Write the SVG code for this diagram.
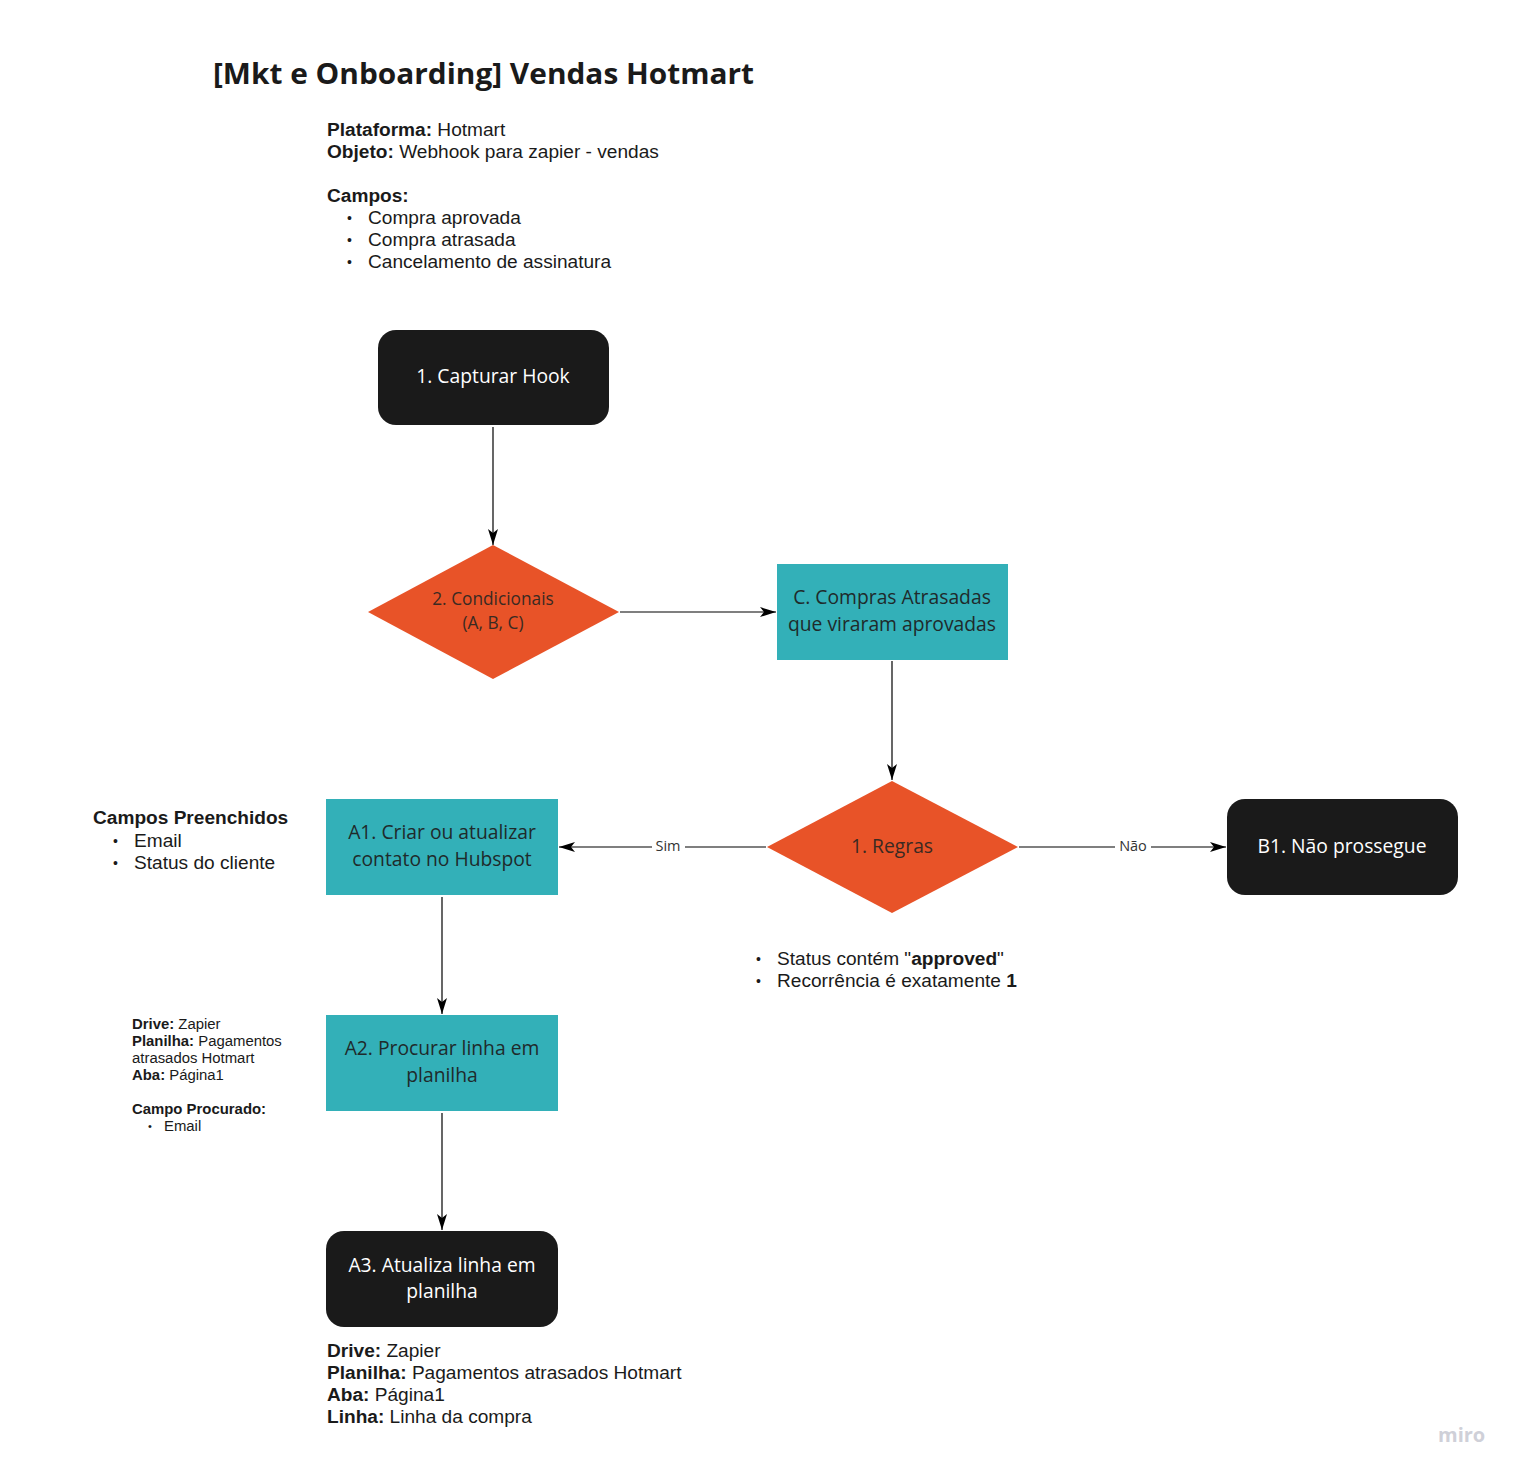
<svg xmlns="http://www.w3.org/2000/svg" width="1522" height="1477" viewBox="0 0 1522 1477">
<defs>
<style>
.note{font-family:"Liberation Sans",Arial,sans-serif;font-size:19.1px;fill:#1a1a1a}
.bul{font-size:14px}
.small{font-family:"Liberation Sans",Arial,sans-serif;font-size:14.9px;fill:#1a1a1a}
.sbul{font-size:11px}
.b{font-weight:bold}
.node{font-family:"Open Sans",sans-serif;font-size:19.3px;text-anchor:middle}
.wt{fill:#ffffff}
.dt{fill:#1f2a2b}
.ot{fill:#3a2a22;font-size:17.3px}
.dark{fill:#1a1a1a}
.teal{fill:#33b0b8}
.orange{fill:#e85328}
.conn{stroke:#000;stroke-width:1.2;fill:none}
.lbl{font-family:"Open Sans",sans-serif;font-size:14.5px;fill:#333;text-anchor:middle}
</style>
<marker id="ah" viewBox="0 0 16 10" refX="16" refY="5" markerWidth="16" markerHeight="10" markerUnits="userSpaceOnUse" orient="auto">
<path d="M0,0 L16,5 L0,10 L4,5 Z" fill="#000"/>
</marker>
</defs>
<rect width="1522" height="1477" fill="#ffffff"/>

<text x="213" y="84" font-family="Open Sans, sans-serif" font-size="29" font-weight="bold" fill="#1a1a1a" textLength="541" lengthAdjust="spacingAndGlyphs">[Mkt e Onboarding] Vendas Hotmart</text>

<g id="info">
<text class="note" x="327" y="136"><tspan class="b">Plataforma:</tspan> Hotmart</text>
<text class="note" x="327" y="158"><tspan class="b">Objeto:</tspan> Webhook para zapier - vendas</text>
<text class="note b" x="327" y="202">Campos:</text>
<text class="note bul" x="347" y="223">•</text><text class="note" x="368" y="224">Compra aprovada</text>
<text class="note bul" x="347" y="245">•</text><text class="note" x="368" y="246">Compra atrasada</text>
<text class="note bul" x="347" y="267">•</text><text class="note" x="368" y="268">Cancelamento de assinatura</text>
</g>

<g id="connectors">
<line class="conn" x1="493" y1="427" x2="493" y2="545" marker-end="url(#ah)"/>
<line class="conn" x1="620" y1="612" x2="776" y2="612" marker-end="url(#ah)"/>
<line class="conn" x1="892" y1="661" x2="892" y2="780" marker-end="url(#ah)"/>
<line class="conn" x1="766" y1="847" x2="559" y2="847" marker-end="url(#ah)"/>
<line class="conn" x1="1019" y1="847" x2="1226" y2="847" marker-end="url(#ah)"/>
<line class="conn" x1="442" y1="897" x2="442" y2="1014" marker-end="url(#ah)"/>
<line class="conn" x1="442" y1="1113" x2="442" y2="1230" marker-end="url(#ah)"/>
<rect x="652" y="836" width="33" height="20" fill="#fff"/>
<text class="lbl" x="668" y="851">Sim</text>
<rect x="1115" y="836" width="36" height="20" fill="#fff"/>
<text class="lbl" x="1133" y="851">Não</text>
</g>

<g id="n1">
<rect class="dark" x="378" y="330" width="231" height="95" rx="18"/>
<text class="node wt" x="493" y="383">1. Capturar Hook</text>
</g>

<g id="n2">
<polygon class="orange" points="493,545 619,612 493,679 368,612"/>
<text class="node ot" x="493" y="605">2. Condicionais</text>
<text class="node ot" x="493" y="629">(A, B, C)</text>
</g>

<g id="nC">
<rect class="teal" x="777" y="564" width="231" height="96"/>
<text class="node dt" x="892" y="604">C. Compras Atrasadas</text>
<text class="node dt" x="892" y="631">que viraram aprovadas</text>
</g>

<g id="nR">
<polygon class="orange" points="892,781 1018,847 892,913 767,847"/>
<text class="node ot" x="892" y="853" style="font-size:19.3px">1. Regras</text>
</g>

<g id="nB1">
<rect class="dark" x="1227" y="799" width="231" height="96" rx="18"/>
<text class="node wt" x="1342" y="853">B1. Não prossegue</text>
</g>

<g id="nA1">
<rect class="teal" x="326" y="799" width="232" height="96"/>
<text class="node dt" x="442" y="839">A1. Criar ou atualizar</text>
<text class="node dt" x="442" y="866">contato no Hubspot</text>
</g>

<g id="nA2">
<rect class="teal" x="326" y="1015" width="232" height="96"/>
<text class="node dt" x="442" y="1055">A2. Procurar linha em</text>
<text class="node dt" x="442" y="1082">planilha</text>
</g>

<g id="nA3">
<rect class="dark" x="326" y="1231" width="232" height="96" rx="18"/>
<text class="node wt" x="442" y="1272">A3. Atualiza linha em</text>
<text class="node wt" x="442" y="1298">planilha</text>
</g>

<g id="campos-preenchidos">
<text class="note b" x="93" y="824">Campos Preenchidos</text>
<text class="note bul" x="113" y="846">•</text><text class="note" x="134" y="847">Email</text>
<text class="note bul" x="113" y="868">•</text><text class="note" x="134" y="869">Status do cliente</text>
</g>

<g id="regras-notes">
<text class="note bul" x="756" y="964">•</text><text class="note" x="777" y="965">Status contém "<tspan class="b">approved</tspan>"</text>
<text class="note bul" x="756" y="986">•</text><text class="note" x="777" y="987">Recorrência é exatamente <tspan class="b">1</tspan></text>
</g>

<g id="a2-notes">
<text class="small" x="132" y="1029"><tspan class="b">Drive:</tspan> Zapier</text>
<text class="small" x="132" y="1046"><tspan class="b">Planilha:</tspan> Pagamentos</text>
<text class="small" x="132" y="1063">atrasados Hotmart</text>
<text class="small" x="132" y="1080"><tspan class="b">Aba:</tspan> Página1</text>
<text class="small b" x="132" y="1114">Campo Procurado:</text>
<text class="small sbul" x="148" y="1130">•</text><text class="small" x="164" y="1131">Email</text>
</g>

<g id="a3-notes">
<text class="note" x="327" y="1357"><tspan class="b">Drive:</tspan> Zapier</text>
<text class="note" x="327" y="1379"><tspan class="b">Planilha:</tspan> Pagamentos atrasados Hotmart</text>
<text class="note" x="327" y="1401"><tspan class="b">Aba:</tspan> Página1</text>
<text class="note" x="327" y="1423"><tspan class="b">Linha:</tspan> Linha da compra</text>
</g>

<text x="1438" y="1442" font-family="Open Sans, sans-serif" font-size="20" font-weight="bold" fill="#cfd0d8">miro</text>
</svg>
